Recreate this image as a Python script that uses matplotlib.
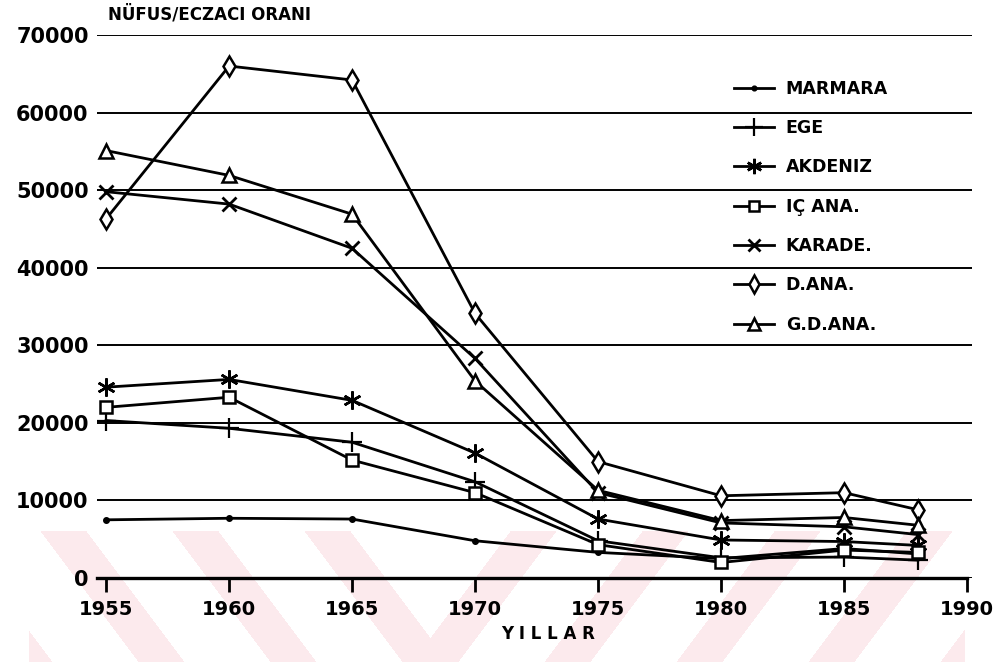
import numpy as np
import matplotlib

matplotlib.use("Agg")

import matplotlib.pyplot as plt


years = [1955, 1960, 1965, 1970, 1975, 1980, 1985, 1988]

marmara = [7500, 7700, 7600, 4800, 3300, 2500, 3800, 3100]
ege = [20300, 19300, 17500, 12400, 4800, 2600, 2700, 2300]
akdeniz = [24600, 25600, 22900, 16100, 7600, 4900, 4700, 4200]
ic_ana = [22000, 23300, 15200, 11000, 4300, 2000, 3600, 3300]
karade = [49800, 48200, 42500, 28300, 11000, 7100, 6600, 5600]
d_ana = [46300, 66000, 64200, 34100, 15000, 10600, 11000, 8800]
gd_ana = [55100, 51900, 46900, 25400, 11300, 7400, 7800, 6800]

labels = ["MARMARA", "EGE", "AKDENIZ", "IÇ ANA.", "KARADE.", "D.ANA.", "G.D.ANA."]
x_ticks = [1955, 1960, 1965, 1970, 1975, 1980, 1985, 1990]
y_ticks = [0, 10000, 20000, 30000, 40000, 50000, 60000, 70000]

plt.rcParams["font.family"] = ["DejaVu Sans"]
plt.rcParams["font.weight"] = "bold"

W, H = 999, 662
fig = plt.figure(figsize=(W / 100, H / 100), dpi=100)
fig.patch.set_facecolor("white")

# faint pink chevron watermark along the bottom strip
band_top, band_bot = 531, 662
ys, xs = np.mgrid[band_top:band_bot, 0:W]
u = np.abs(xs - 430) + 0.75 * (ys - band_top)
pink = ((u - 80) % 132) < 46
pink &= (xs > 28) & (xs < 965)
wm = np.ones((band_bot - band_top, W, 4))
wm[..., 0] = 0.992
wm[..., 1] = 0.918
wm[..., 2] = 0.930
wm[..., 3] = pink.astype(float)
fig.figimage(wm, xo=0, yo=0, origin="upper", zorder=0)

ax = fig.add_axes([97 / W, 1 - 578 / H, (972 - 97) / W, (578 - 35) / H])
ax.set_zorder(2)
ax.patch.set_alpha(0)

styles = [
    (marmara, dict(marker="o", ms=4, mfc="black")),
    (ege, dict(marker="+", ms=15, mew=1.6)),
    (akdeniz, dict(marker=(6, 2, 0), ms=13, mew=1.8)),
    (ic_ana, dict(marker="s", ms=8, mfc="white", mew=1.8)),
    (karade, dict(marker="x", ms=10, mew=2)),
    (d_ana, dict(marker="d", ms=10.5, mfc="white", mew=1.8)),
    (gd_ana, dict(marker="^", ms=10, mfc="white", mew=1.8)),
]
for (vals, kw), name in zip(styles, labels):
    ax.plot(years, vals, color="black", lw=2, mec="black", label=name, zorder=3, **kw)

ax.set_xlim(1954.63, 1990.2)
ax.set_ylim(0, 70000)
ax.set_xticks(x_ticks)
ax.set_yticks(y_ticks)
ax.tick_params(axis="x", direction="out", length=10, width=2, pad=6, labelsize=14)
ax.tick_params(axis="y", length=0, pad=6, labelsize=15)
ax.grid(axis="y", color="black", lw=1.4)
ax.grid(axis="x", visible=False)
ax.set_axisbelow(True)

for side in ["top", "right", "left"]:
    ax.spines[side].set_visible(False)
ax.spines["bottom"].set_linewidth(2.4)
ax.spines["bottom"].set_bounds(1954.63, 1990)

ax.legend(
    loc="upper left",
    bbox_to_anchor=(718 / W, 1 - 64 / H),
    bbox_transform=fig.transFigure,
    frameon=False,
    fontsize=12.5,
    markerscale=0.85,
    handlelength=2.3,
    handletextpad=0.7,
    labelspacing=1.23,
)

fig.text(108 / W, 1 - 14 / H, "NÜFUS/ECZACI ORANI", fontsize=12, fontweight="bold", va="center", ha="left")
fig.text(548 / W, 1 - 634 / H, "Y I L L A R", fontsize=12, fontweight="bold", va="center", ha="center")

fig.savefig("out.png", dpi=100)
